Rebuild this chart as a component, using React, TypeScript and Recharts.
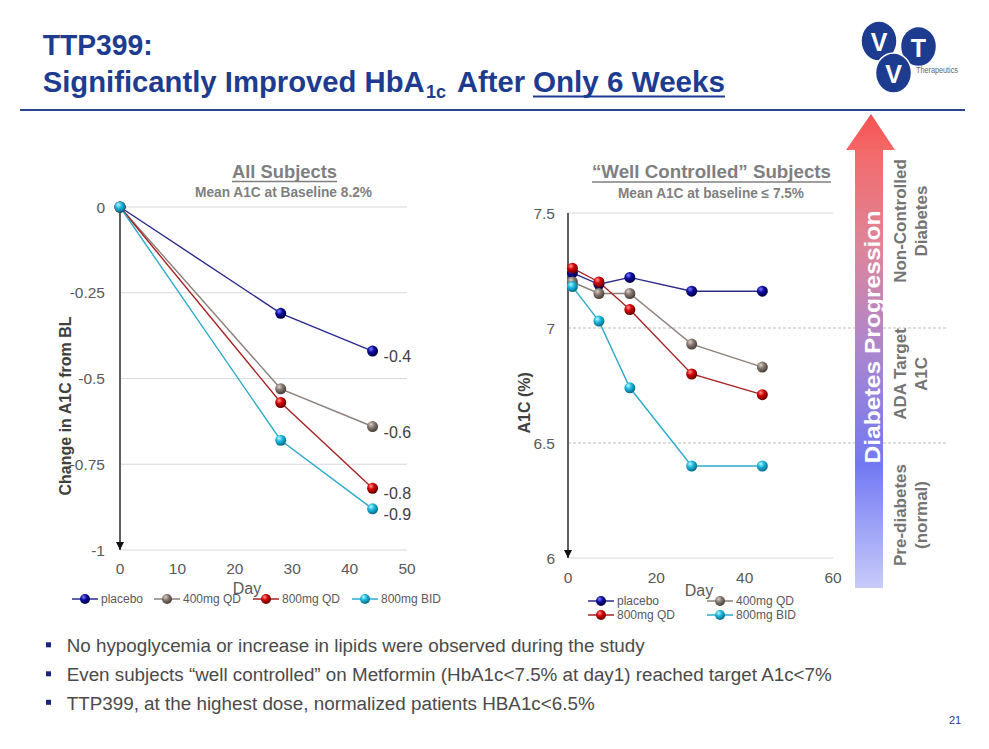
import React from 'react';
import {
  LineChart,
  Line,
  XAxis,
  YAxis,
  CartesianGrid,
  ReferenceLine,
  ReferenceDot,
  LabelList,
  Legend,
  Label,
} from 'recharts';

// ---------- DATA ----------
const seriesNames = ['placebo', '400mg QD', '800mg QD', '800mg BID'];

// All Subjects: change in A1C from baseline
const allDays = [0, 28, 44];
const allPlacebo = [0, -0.31, -0.42];
const all400QD = [0, -0.53, -0.64];
const all800QD = [0, -0.57, -0.82];
const all800BID = [0, -0.68, -0.88];
const allYTicks = [0, -0.25, -0.5, -0.75, -1];
const allXTicks = [0, 10, 20, 30, 40, 50];

// "Well Controlled" Subjects: A1C (%)
const wcDays = [1, 7, 14, 28, 44];
const wcPlacebo = [7.24, 7.19, 7.22, 7.16, 7.16];
const wc400QD = [7.2, 7.15, 7.15, 6.93, 6.83];
const wc800QD = [7.26, 7.2, 7.08, 6.8, 6.71];
const wc800BID = [7.18, 7.03, 6.74, 6.4, 6.4];
const wcYTicks = [6, 6.5, 7, 7.5];
const wcXTicks = [0, 20, 40, 60];
const wcBandLines = [7, 6.5];
const wcBandEndDay = 86;

const bullets = [
  'No hypoglycemia or increase in lipids were observed during the study',
  'Even subjects \u201cwell controlled\u201d on Metformin (HbA1c<7.5% at day1) reached target A1c<7%',
  'TTP399, at the highest dose, normalized patients HBA1c<6.5%',
];

// ---------- STYLE ----------
const FONT = '"Liberation Sans", Arial, Helvetica, sans-serif';
const BLUE = '#1d3c8f';
const KEYS = ['placebo', 'q400', 'q800', 'bid'];
const STYLES: Record<string, { line: string; light: string; base: string; dark: string }> = {
  placebo: { line: '#2a2a8c', light: '#8080ff', base: '#0c0ca0', dark: '#00003f' },
  q400: { line: '#8c817a', light: '#ddd3cb', base: '#877a72', dark: '#463c36' },
  q800: { line: '#a62222', light: '#ff9a9a', base: '#d40000', dark: '#620000' },
  bid: { line: '#2eaacb', light: '#bff6ff', base: '#1ab8de', dark: '#086a86' },
};

function buildRows(days: number[], cols: Record<string, number[]>) {
  return days.map((d, i) => {
    const row: any = { day: d };
    Object.keys(cols).forEach((k) => {
      row[k] = cols[k][i];
    });
    return row;
  });
}

const allData = buildRows(allDays, { placebo: allPlacebo, q400: all400QD, q800: all800QD, bid: all800BID });
const wcData = buildRows(wcDays, { placebo: wcPlacebo, q400: wc400QD, q800: wc800QD, bid: wc800BID });

const gradId = (k: string) => `sphere-${k}`;

const makeDot = (k: string, r: number) => (props: any) => {
  const { cx, cy, index } = props;
  if (cx == null || cy == null) return <g key={`e-${k}-${index}`} />;
  return <circle key={`d-${k}-${index}`} cx={cx} cy={cy} r={r} fill={`url(#${gradId(k)})`} stroke="none" />;
};

const endLabel = (lastIndex: number) => (p: any) => {
  if (p.index !== lastIndex) return null;
  const x = p.x ?? p.viewBox?.x;
  const y = p.y ?? p.viewBox?.y;
  const v = Number(p.value);
  return (
    <text x={x + 11} y={y + 5.5} dominantBaseline="central" fontSize={16} fill="#404040" fontFamily={FONT}>
      {v.toFixed(1)}
    </text>
  );
};

const arrowHead = (p: any) => (
  <path d={`M${p.cx - 4},${p.cy - 8} L${p.cx + 4},${p.cy - 8} L${p.cx},${p.cy} Z`} fill="#111" />
);

const LegendIcon = ({ x, y, k }: { x: number; y: number; k: string }) => (
  <g>
    <line x1={x - 13} x2={x + 13} y1={y} y2={y} stroke={STYLES[k].line} strokeWidth={1.5} />
    <circle cx={x} cy={y} r={5} fill={`url(#${gradId(k)})`} />
  </g>
);

const leftLegendPos = [85, 167, 266, 365];
const LeftLegend = () => (
  <svg width={460} height={20} style={{ display: 'block', overflow: 'visible' }}>
    {KEYS.map((k, i) => (
      <g key={k}>
        <LegendIcon x={leftLegendPos[i]} y={9} k={k} />
        <text x={leftLegendPos[i] + 16} y={9} dominantBaseline="central" fontSize={12} fill="#595959" fontFamily={FONT}>
          {seriesNames[i]}
        </text>
      </g>
    ))}
  </svg>
);

const rightLegendPos = [
  [131, 9],
  [250, 9],
  [131, 23],
  [250, 23],
];
const RightLegend = () => (
  <svg width={500} height={30} style={{ display: 'block', overflow: 'visible' }}>
    {KEYS.map((k, i) => (
      <g key={k}>
        <LegendIcon x={rightLegendPos[i][0]} y={rightLegendPos[i][1]} k={k} />
        <text
          x={rightLegendPos[i][0] + 16}
          y={rightLegendPos[i][1]}
          dominantBaseline="central"
          fontSize={12}
          fill="#595959"
          fontFamily={FONT}
        >
          {seriesNames[i]}
        </text>
      </g>
    ))}
  </svg>
);

const tickStyle = { fill: '#595959', fontSize: 15.5, fontFamily: FONT };

function AllSubjectsChart() {
  const last = allDays.length - 1;
  return (
    <LineChart width={460} height={470} data={allData} margin={{ top: 57, right: 53, bottom: 30, left: 60 }}>
      <CartesianGrid vertical={false} stroke="#d9d9d9" strokeWidth={1.2} />
      <XAxis
        type="number"
        dataKey="day"
        domain={[0, 50]}
        ticks={allXTicks}
        axisLine={false}
        tickLine={false}
        tickSize={0}
        tickMargin={13}
        height={40}
        tick={tickStyle}
      >
        <Label
          content={(p: any) => {
            const vb = p.viewBox;
            return (
              <text x={vb.x + vb.width / 2 - 16.5} y={vb.y + 38} textAnchor="middle" dominantBaseline="central" fontSize={16} fill="#595959" fontFamily={FONT}>
                Day
              </text>
            );
          }}
        />
      </XAxis>
      <YAxis
        type="number"
        domain={[-1, 0]}
        ticks={allYTicks}
        width={60}
        axisLine={{ stroke: '#5f5f5f', strokeWidth: 2 }}
        tickLine={false}
        tickSize={0}
        tickMargin={15}
        tick={tickStyle}
        interval={0}
      >
        <Label
          content={(p: any) => {
            const vb = p.viewBox;
            const x = vb.x + 5;
            const y = vb.y + vb.height / 2 + 27.5;
            return (
              <text x={x} y={y} transform={`rotate(-90 ${x} ${y})`} textAnchor="middle" dominantBaseline="central" fontSize={16} fontWeight="bold" fill="#404040" fontFamily={FONT}>
                Change in A1C from BL
              </text>
            );
          }}
        />
      </YAxis>
      <ReferenceDot x={0} y={-1} r={0} ifOverflow="visible" shape={arrowHead} />
      {KEYS.map((k) => (
        <Line
          key={k}
          type="linear"
          dataKey={k}
          stroke={STYLES[k].line}
          strokeWidth={1.4}
          dot={makeDot(k, 5.5)}
          activeDot={false}
          isAnimationActive={false}
        >
          <LabelList dataKey={k} content={endLabel(last)} />
        </Line>
      ))}
      <Legend
        layout="horizontal"
        verticalAlign="middle"
        align="center"
        wrapperStyle={{ left: 0, top: 440, width: 460, height: 20 }}
        content={() => <LeftLegend />}
      />
    </LineChart>
  );
}

function WellControlledChart() {
  return (
    <LineChart width={500} height={480} data={wcData} margin={{ top: 63, right: 137, bottom: 32, left: 38 }}>
      <ReferenceLine y={7.5} stroke="#d9d9d9" strokeWidth={1.2} />
      <ReferenceLine y={6} stroke="#d9d9d9" strokeWidth={1.2} />
      {wcBandLines.map((v) => (
        <ReferenceLine
          key={v}
          segment={[
            { x: 0, y: v },
            { x: wcBandEndDay, y: v },
          ]}
          stroke="#bdbdbd"
          strokeDasharray="3 2"
          ifOverflow="visible"
        />
      ))}
      <XAxis
        type="number"
        dataKey="day"
        domain={[0, 60]}
        ticks={wcXTicks}
        axisLine={false}
        tickLine={false}
        tickSize={0}
        tickMargin={14}
        height={40}
        tick={tickStyle}
      >
        <Label
          content={(p: any) => {
            const vb = p.viewBox;
            return (
              <text x={vb.x + vb.width / 2 - 1.5} y={vb.y + 32.3} textAnchor="middle" dominantBaseline="central" fontSize={16} fill="#595959" fontFamily={FONT}>
                Day
              </text>
            );
          }}
        />
      </XAxis>
      <YAxis
        type="number"
        domain={[6, 7.5]}
        ticks={wcYTicks}
        width={60}
        axisLine={{ stroke: '#5f5f5f', strokeWidth: 2 }}
        tickLine={false}
        tickSize={0}
        tickMargin={13}
        tick={tickStyle}
        interval={0}
      >
        <Label
          content={(p: any) => {
            const vb = p.viewBox;
            const x = vb.x + 17;
            const y = vb.y + vb.height / 2 + 17.4;
            return (
              <text x={x} y={y} transform={`rotate(-90 ${x} ${y})`} textAnchor="middle" dominantBaseline="central" fontSize={16} fontWeight="bold" fill="#404040" fontFamily={FONT}>
                A1C (%)
              </text>
            );
          }}
        />
      </YAxis>
      <ReferenceDot x={0} y={6} r={0} ifOverflow="visible" shape={arrowHead} />
      {KEYS.map((k) => (
        <Line
          key={k}
          type="linear"
          dataKey={k}
          stroke={STYLES[k].line}
          strokeWidth={1.4}
          dot={makeDot(k, 5.5)}
          activeDot={false}
          isAnimationActive={false}
        />
      ))}
      <Legend
        layout="horizontal"
        verticalAlign="middle"
        align="center"
        wrapperStyle={{ left: 0, top: 442, width: 500, height: 30 }}
        content={() => <RightLegend />}
      />
    </LineChart>
  );
}

function Defs() {
  return (
    <svg width={0} height={0} style={{ position: 'absolute' }}>
      <defs>
        {KEYS.map((k) => (
          <radialGradient key={k} id={gradId(k)} cx="40%" cy="35%" r="65%" fx="35%" fy="30%">
            <stop offset="0%" stopColor={STYLES[k].light} />
            <stop offset="45%" stopColor={STYLES[k].base} />
            <stop offset="100%" stopColor={STYLES[k].dark} />
          </radialGradient>
        ))}
        <linearGradient id="progShaft" x1="0" y1="0" x2="0" y2="1">
          <stop offset="0%" stopColor="#f46a6a" />
          <stop offset="22%" stopColor="#de8599" />
          <stop offset="45%" stopColor="#ad86cd" />
          <stop offset="72%" stopColor="#7279f3" />
          <stop offset="100%" stopColor="#c8cbfa" />
        </linearGradient>
        <linearGradient id="progHead" x1="0" y1="0" x2="0" y2="1">
          <stop offset="0%" stopColor="#f55050" />
          <stop offset="100%" stopColor="#f46868" />
        </linearGradient>
      </defs>
    </svg>
  );
}

function Overlay() {
  const sideLabel = (l1: string, l2: string, cy: number) => (
    <g>
      <text x={900} y={cy} transform={`rotate(-90 900 ${cy})`} textAnchor="middle" dominantBaseline="central" fontSize={17} fontWeight="bold" fill="#747474">
        {l1}
      </text>
      <text x={921} y={cy} transform={`rotate(-90 921 ${cy})`} textAnchor="middle" dominantBaseline="central" fontSize={17} fontWeight="bold" fill="#747474">
        {l2}
      </text>
    </g>
  );
  return (
    <svg width={989} height={749} style={{ position: 'absolute', left: 0, top: 0, pointerEvents: 'none', zIndex: 2 }} fontFamily={FONT}>
      {/* Title */}
      <text x={42.7} y={55} fontSize={30} fontWeight="bold" fill={BLUE} textLength={110} lengthAdjust="spacingAndGlyphs">
        TTP399:
      </text>
      <text x={42.7} y={92} fontSize={29.2} fontWeight="bold" fill={BLUE} textLength={382} lengthAdjust="spacingAndGlyphs">
        Significantly Improved HbA
      </text>
      <text x={426} y={98} fontSize={19} fontWeight="bold" fill={BLUE} textLength={20} lengthAdjust="spacingAndGlyphs">
        1c
      </text>
      <text x={457} y={92} fontSize={29.2} fontWeight="bold" fill={BLUE} textLength={68} lengthAdjust="spacingAndGlyphs">
        After
      </text>
      <text x={533} y={92} fontSize={30} fontWeight="bold" fill={BLUE} textLength={192} lengthAdjust="spacingAndGlyphs">
        Only 6 Weeks
      </text>
      <line x1={533} x2={725} y1={96.5} y2={96.5} stroke={BLUE} strokeWidth={2.2} />
      <line x1={20} x2={965} y1={110} y2={110} stroke="#2b4590" strokeWidth={2} />

      {/* Logo */}
      <ellipse cx={879} cy={41} rx={18} ry={20} fill={BLUE} stroke="#fff" strokeWidth={1.5} />
      <ellipse cx={918.5} cy={46.5} rx={18} ry={20} fill={BLUE} stroke="#fff" strokeWidth={1.5} />
      <ellipse cx={893.5} cy={73} rx={18} ry={20} fill={BLUE} stroke="#fff" strokeWidth={1.5} />
      <text x={879} y={42} textAnchor="middle" dominantBaseline="central" fontSize={25} fontWeight="bold" fill="#fff">V</text>
      <text x={918.5} y={47.5} textAnchor="middle" dominantBaseline="central" fontSize={25} fontWeight="bold" fill="#fff">T</text>
      <text x={893.5} y={74} textAnchor="middle" dominantBaseline="central" fontSize={25} fontWeight="bold" fill="#fff">V</text>
      <text x={916} y={70} dominantBaseline="central" fontSize={8.5} fill="#666" textLength={42} lengthAdjust="spacingAndGlyphs">
        Therapeutics
      </text>

      {/* Chart titles */}
      <text x={284.5} y={178} textAnchor="middle" fontSize={18} fontWeight="bold" fill="#7f7f7f" textLength={105} lengthAdjust="spacingAndGlyphs">
        All Subjects
      </text>
      <line x1={232} x2={337} y1={181.5} y2={181.5} stroke="#7f7f7f" strokeWidth={1.5} />
      <text x={283.5} y={197} textAnchor="middle" fontSize={14} fontWeight="bold" fill="#7f7f7f" textLength={177} lengthAdjust="spacingAndGlyphs">
        Mean A1C at Baseline 8.2%
      </text>
      <text x={711.5} y={178} textAnchor="middle" fontSize={18} fontWeight="bold" fill="#7f7f7f" textLength={239} lengthAdjust="spacingAndGlyphs">
        {'\u201cWell Controlled\u201d Subjects'}
      </text>
      <line x1={592} x2={831} y1={182} y2={182} stroke="#7f7f7f" strokeWidth={1.5} />
      <text x={711} y={198} textAnchor="middle" fontSize={14} fontWeight="bold" fill="#7f7f7f" textLength={186} lengthAdjust="spacingAndGlyphs">
        {'Mean A1C at baseline \u2264 7.5%'}
      </text>

      {/* Progression arrow */}
      <polygon points="846,150 871,114 895,150" fill="url(#progHead)" />
      <rect x={855} y={150} width={28} height={438} fill="url(#progShaft)" />
      <text x={872} y={337} transform="rotate(-90 872 337)" textAnchor="middle" dominantBaseline="central" fontSize={22} fontWeight="bold" fill="#fff" textLength={253} lengthAdjust="spacingAndGlyphs">
        Diabetes Progression
      </text>
      {sideLabel('Non-Controlled', 'Diabetes', 221)}
      {sideLabel('ADA Target', 'A1C', 374)}
      {sideLabel('Pre-diabetes', '(normal)', 515)}

      {/* Bullets */}
      {bullets.map((b, i) => {
        const base = [652, 681, 709.5][i];
        const len = [578, 765, 528][i];
        return (
          <g key={i}>
            <rect x={46} y={base - 9.7} width={5} height={5} fill="#1a237e" />
            <text x={66.7} y={base} fontSize={18} fill="#4a4a4a" textLength={len} lengthAdjust="spacingAndGlyphs">
              {b}
            </text>
          </g>
        );
      })}
      <text x={955} y={720} textAnchor="middle" dominantBaseline="central" fontSize={11} fill={BLUE}>
        21
      </text>
    </svg>
  );
}

export default function App() {
  return (
    <div
      style={{
        position: 'absolute',
        left: 0,
        top: 0,
        width: 989,
        height: 749,
        background: '#fff',
        overflow: 'hidden',
        fontFamily: FONT,
      }}
    >
      <Defs />
      <div style={{ position: 'absolute', left: 0, top: 150, width: 460, height: 470 }}>
        <AllSubjectsChart />
      </div>
      <div style={{ position: 'absolute', left: 470, top: 150, width: 500, height: 480 }}>
        <WellControlledChart />
      </div>
      <Overlay />
    </div>
  );
}
